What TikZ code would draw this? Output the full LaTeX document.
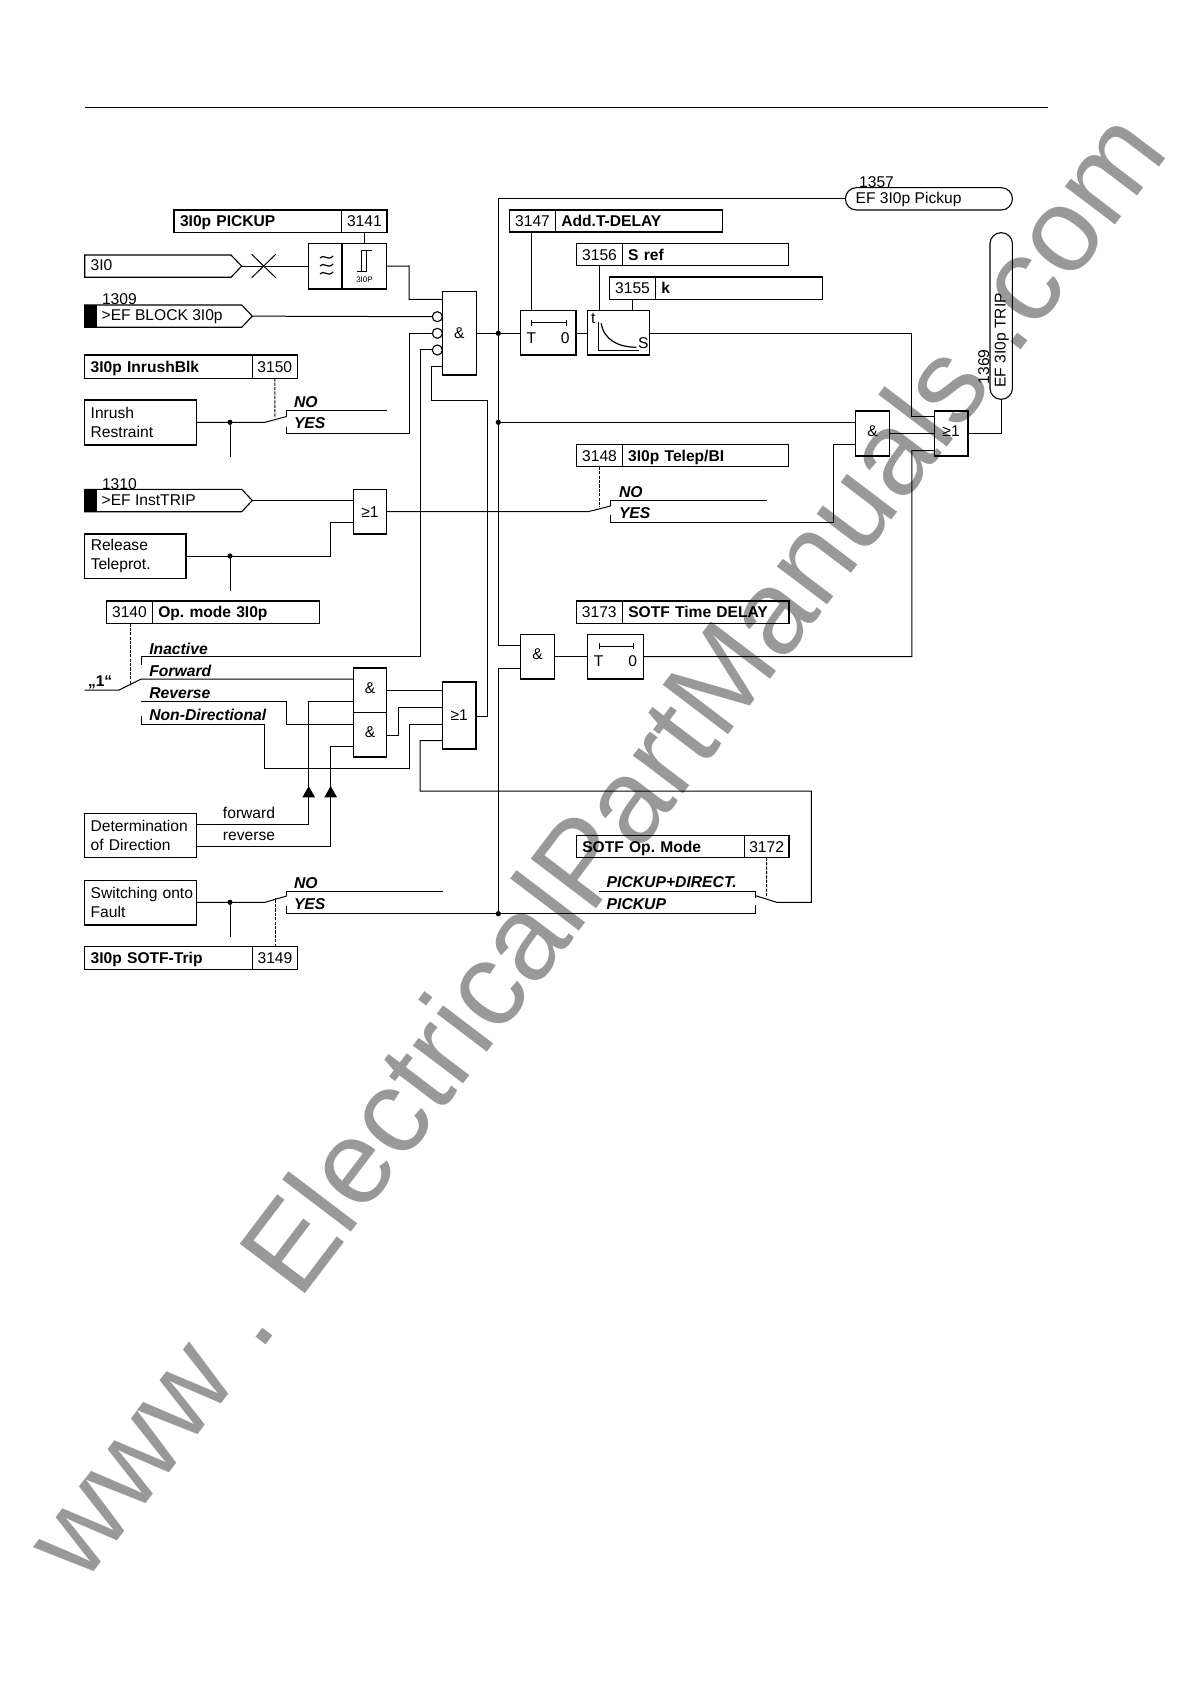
\documentclass[tikz,border=0pt]{standalone}
\usepackage{fontspec}
\setmainfont{Liberation Sans}
\newcommand\szf{\fontsize{7.8}{9.5}\selectfont}
\tikzset{
 ln/.style={line width=.5pt,black},
 box/.style={draw,line width=.55pt,inner sep=0pt,outer sep=0pt,font=\szf,align=center},
 cellnum/.style={box,text height=5.6pt,text depth=0pt},
 celllab/.style={box,text height=5.6pt,text depth=0pt,font=\szf\bfseries,align=left,inner xsep=3pt},
 txtb/.style={inner sep=0pt,outer sep=0pt,anchor=base west,font=\szf},
 swl/.style={txtb,font=\fontsize{7.85}{9}\selectfont\bfseries\itshape},
 lftbox/.style={box,align=left,inner xsep=3pt},
 upg/.style={text height=6pt,text depth=3.2pt},
 dashl/.style={line width=.5pt,dash pattern=on 1.6pt off .6pt},
 dot/.style={circle,fill=black,inner sep=0pt,minimum size=2.6pt},
 inv/.style={circle,draw,line width=.55pt,fill=white,inner sep=0pt,minimum size=5pt,outer sep=0pt},
 wm/.style={font=\fontsize{59.5}{59.5}\selectfont,text=black!40,inner sep=0pt,anchor=base west}
}
% rectangular node from corners
\newcommand\bx[6][]{\node[box,minimum width={(#4-#2)*.5pt},minimum height={(#5-#3)*.5pt},#1] (#6) at ({(#2+#4)/2},{(#3+#5)/2})}
% setting box: number left
\newcommand\lbltext{}
\newcommand\setnl[7]{%
 \node[cellnum,minimum width={(#3-#2)*.5pt},minimum height={(#5-#4)*.5pt}] (#1n) at ({(#2+#3)/2},{(#4+#5)/2}) {#6};
 \node[celllab,text width={(#7-#3)*.5pt-6pt},minimum height={(#5-#4)*.5pt}] (#1l) at ({(#3+#7)/2},{(#4+#5)/2}) {\lbltext};}
\newcommand\nlb[8]{\renewcommand\lbltext{#8}\setnl{#1}{#2}{#3}{#4}{#5}{#6}{#7}}
% setting box: label left, number right
\newcommand\lnb[8]{%
 \node[celllab,text width={(#3-#2)*.5pt-6pt},minimum height={(#5-#4)*.5pt}] (#1l) at ({(#2+#3)/2},{(#4+#5)/2}) {#6};
 \node[cellnum,minimum width={(#7-#3)*.5pt},minimum height={(#5-#4)*.5pt}] (#1n) at ({(#3+#7)/2},{(#4+#5)/2}) {#8};}
% input pentagon
\newcommand\sigin[8]{%
 \draw[line width=.55pt] (#2,#5) -- (#3,#5) -- (#4,{(#5+#6)/2}) -- (#3,#6) -- (#2,#6) -- cycle;
 \coordinate (#1) at (#4,{(#5+#6)/2});
 \node[txtb] (#1t) at (#7,#5+16) {#8};}
\newcommand\blk[2]{\fill (84.7,#1) rectangle (96.7,#2);}
\newcommand\timer[2]{%
 \draw[line width=.5pt] (#1+11.5,#2+12) -- (#1+46,#2+12) (#1+11.5,#2+9) -- (#1+11.5,#2+15) (#1+46,#2+9) -- (#1+46,#2+15);
 \node[font=\szf,inner sep=0pt] at (#1+11,#2+27) {T};
 \node[font=\szf,inner sep=0pt] at (#1+45,#2+27) {0};}
\begin{document}
\frenchspacing
\begin{tikzpicture}[x=.5pt,y=-.5pt]
\useasboundingbox (0,0) rectangle (1190,1684);
\fill[white] (0,0) rectangle (1190,1684);
\node[wm,rotate=52.8] (water) at (83,1585.8) {www . ElectricalPartManuals .com};
\coordinate (ruleL) at (85,107); \coordinate (ruleR) at (1048,107);
\draw[line width=.4pt] (ruleL) -- (ruleR);

% --- left column settings
\lnb{pick}{174}{341.7}{210}{232.3}{3I0p PICKUP}{387}{3141}
\lnb{inr}{84.7}{252.3}{355}{378.3}{3I0p InrushBlk}{297.3}{3150}
\nlb{opm}{106.7}{152.3}{601}{623.3}{3140}{319.3}{Op. mode 3I0p}
\lnb{sotft}{84.7}{252.7}{946.7}{969.3}{3I0p SOTF-Trip}{297.3}{3149}
% --- right column settings
\nlb{add}{509.6}{555.4}{210}{232}{3147}{722.4}{Add.T-DELAY}
\nlb{sref}{576.8}{622.2}{243.7}{265.7}{3156}{788.9}{S ref}
\nlb{kk}{609.8}{655.3}{277}{299.3}{3155}{822.3}{k}
\nlb{tele}{576.8}{622.2}{444.7}{466.7}{3148}{788.9}{3I0p Telep/BI}
\nlb{sdel}{576.3}{622.3}{601}{623.3}{3173}{789}{SOTF Time DELAY}
\lnb{sopm}{576.3}{744.3}{835.7}{857.7}{SOTF Op. Mode}{789}{3172}

% --- inputs
\sigin{i0}{84.7}{231}{241.7}{255}{277.3}{90.7}{3I0}
\blk{305}{327.3}
\sigin{ib}{84.7}{241.7}{252.3}{305}{327.3}{101.7}{>EF BLOCK 3I0p}
\node[txtb] (n1309) at (102,305) {1309};
\blk{489.3}{511.7}
\sigin{it}{84.7}{241.7}{252.3}{489.3}{511.7}{101.7}{>EF InstTRIP}
\node[txtb] (n1310) at (102,489) {1310};

% --- plain boxes
\bx[lftbox,text width=50pt]{84.7}{400}{196.7}{445}{inrb} {Inrush\\Restraint};
\bx[lftbox,text width=44.6pt]{84.7}{534}{186}{578.3}{rel} {Release\\Teleprot.};
\bx[lftbox,text width=50pt]{84.7}{813.3}{196.7}{857.7}{det} {Determination\\of Direction};
\bx[lftbox,text width=50pt]{84.7}{880.7}{196.7}{925}{swo} {\mbox{Switching onto}\\Fault};

% --- filter
\bx{308.7}{243.3}{342}{289}{filtA} {};
\bx{342}{243.3}{386.7}{289}{filtB} {};
\foreach \yy in {257,265,273}{\draw[line width=.6pt] (320,\yy+1) .. controls (323.5,\yy-4) and (328,\yy+5) .. (333,\yy-1);}
\draw[line width=.5pt] (356.7,272) -- (366.7,272) -- (366.7,251) (361.7,272) -- (361.7,251) -- (371.7,251);
\node[font=\fontsize{4}{4}\selectfont,inner sep=0pt] (lab3i) at (364.5,279.5) {3I0P};
\coordinate (xa) at (251.7,254.3); \coordinate (xb) at (275.7,277.7);
\coordinate (xc) at (251.7,277.7); \coordinate (xd) at (275.7,254.3);
\draw[ln] (xa) -- (xb) (xc) -- (xd);

% --- gates
\bx{442.3}{291.3}{476.3}{375}{andA} {\&};
\bx{353.3}{489.3}{386.7}{534}{orT} {≥1};
\bx[upg]{353.3}{668}{386.7}{712.7}{andF} {\&};
\bx[upg]{353.3}{712.7}{386.7}{757}{andR} {\&};
\bx{442.3}{682}{476}{749}{orD} {≥1};
\bx[upg]{520.7}{634.3}{554.3}{679}{andS} {\&};
\bx[upg]{855.7}{411}{889.5}{456}{andE} {\&};
\bx[upg]{934.2}{411}{968}{456}{orE} {≥1};
\node[inv] (c1) at (437.3,316.7) {};
\node[inv] (c2) at (437.3,333.3) {};
\node[inv] (c3) at (437.3,350) {};

% --- timers
\bx{520.3}{310.7}{576}{355}{tA} {};
\timer{520.3}{310.7}
\bx{587.7}{634.3}{643.7}{679}{tS} {};
\timer{587.7}{634.3}
\bx{587.5}{310.7}{649.4}{355}{cur} {};
\node[font=\szf,inner sep=0pt] (ct) at (593.3,319) {t};
\node[font=\szf,inner sep=0pt] (cs) at (643.2,343.5) {S};
\draw[line width=.6pt] (598.5,322.3) -- (598.5,350.7) -- (638.8,350.7);
\draw[line width=.6pt] (601.2,323.3) .. controls (604,340) and (618,347) .. (636.3,347.3);

% --- outputs
\draw[line width=.55pt,rounded corners=5.5pt] (845.4,187.7) rectangle (1012.4,210);
\coordinate (pickIn) at (845.4,198.8);
\node[txtb] (pickT) at (855.7,204) {EF 3I0p Pickup};
\node[txtb] (n1357) at (859.2,187.7) {1357};
\draw[line width=.55pt,rounded corners=5.5pt] (990,232.7) rectangle (1012.4,399.3);
\coordinate (tripIn) at (1001.4,399.3);
\node[txtb,rotate=90] (tripT) at (1005.5,387.7) {EF 3I0p TRIP};
\node[txtb,rotate=90] (n1369) at (989,384.3) {1369};

% --- switch labels
\node[swl] (s1) at (294,408) {NO};
\node[swl] (s2) at (294,429) {YES};
\node[swl] (s3) at (619,497.3) {NO};
\node[swl] (s4) at (619,518.3) {YES};
\node[swl] (s5) at (294,888.3) {NO};
\node[swl] (s6) at (294,909.3) {YES};
\node[swl] (s7) at (149.3,654) {Inactive};
\node[swl] (s8) at (149.3,676) {Forward};
\node[swl] (s9) at (149.3,698.3) {Reverse};
\node[swl] (s10) at (149.3,720) {Non-Directional};
\node[swl] (s11) at (606.7,887) {PICKUP+DIRECT.};
\node[swl] (s12) at (606.7,909.3) {PICKUP};
\node[txtb,font=\fontsize{7.8}{9}\selectfont\bfseries] (one) at (88,686.7) {„1“};
\node[font=\szf,inner sep=0pt] (fw) at (249,812.7) {forward};
\node[font=\szf,inner sep=0pt] (rv) at (249,836.5) {reverse};

% --- junctions
\coordinate (busA) at (498.3,333.3);
\coordinate (busB) at (498.3,422.3);
\coordinate (busC) at (498.3,913.7);
\coordinate (jI) at (230,422.3);
\coordinate (jR) at (230,556);
\coordinate (jS) at (230,902.3);

% --- connectors
\draw[ln] (pickn.south) -- (filtB.north |- pickn.south) -- (filtB.north);
\draw[ln] (i0) -- (filtA.west);
\draw[ln] (filtB.east) -- (409,266) -- (409,299.3) -- (andA.west |- 0,299.3);
\draw[ln] (ib) -- (c1.west);
\draw[ln] (c2.west) -- (409,333.3) -- (409,433.7) -- (286,433.7) -- (286,426.7);
\draw[ln] (c3.west) -- (420,350) -- (420,656.7) -- (141.3,656.7) -- (141.3,665);
\draw[ln] (andA.west |- 0,367) -- (431.7,367) -- (431.7,400.3) -- (487.3,400.3) -- (487.3,716) -- (orD.east |- 0,716);
\draw[ln] (andA.east |- busA) -- (tA.west |- busA);
\draw[ln] (tA.east |- busA) -- (cur.west |- busA);
\draw[ln] (addn.south -| 531.3,0) -- (531.3,310.7);
\draw[ln] (srefn.south) -- (srefn.south |- cur.north);
\draw[ln] (kkn.south) -- (kkn.south |- cur.north);
\draw[ln] (pickIn) -- (498.3,198.8) -- (498.3,645.7) -- (andS.west |- 0,645.7);
\draw[ln] (andS.west |- 0,668) -- (498.3,668) -- (busC);
\draw[ln] (busB) -- (andE.west |- busB);
\draw[ln] (cur.east |- busA) -- (911.8,333.3) -- (911.8,416.7) -- (orE.west |- 0,416.7);
\draw[ln] (andE.east |- 0,433.3) -- (orE.west |- 0,433.3);
\draw[ln] (orE.east |- 0,433.3) -- (1001.4,433.3) -- (tripIn);
\draw[ln] (orE.west |- 0,450.7) -- (911.8,450.7) -- (911.8,656.7) -- (tS.east);
\draw[ln] (andS.east) -- (tS.west);
% inrush switch
\draw[ln] (inrb.east |- jI) -- (265,422.3) -- (286.7,416.5);
\coordinate (jId) at (230,456.7); \draw[ln] (jI) -- (jId);
\coordinate (swNa) at (286,416.5); \coordinate (swNb) at (386.7,411);
\draw[ln] (swNa) -- (286,411) -- (swNb);
\draw[dashl] (inrn.south) -- (275,418);
% tele
\draw[ln] (it) -- (orT.west |- it);
\draw[ln] (rel.east |- jR) -- (330.7,556) -- (330.7,522.7) -- (orT.west |- 0,522.7);
\coordinate (jRd) at (230,591); \draw[ln] (jR) -- (jRd);
\draw[ln] (orT.east |- 0,511.7) -- (588.1,511.7) -- (610.5,506);
\coordinate (tNa) at (610.5,506); \coordinate (tNb) at (767.2,500.7);
\draw[ln] (tNa) -- (610.5,500.7) -- (tNb);
\draw[ln] (610.5,515) -- (610.5,522.7) -- (833.7,522.7) -- (833.7,444.7) -- (andE.west |- 0,444.7);
\draw[dashl] (telen.south) -- (599.5,506.7);
% op mode
\coordinate (oneL) at (84.7,690);
\draw[ln] (oneL) -- (119.3,690) -- (141.3,679) -- (andF.west |- 0,679);
\draw[dashl] (opmn.south -| 130,0) -- (130,684.3);
\draw[ln] (141.3,701.7) -- (286,701.7) -- (286,724) -- (andR.west |- 0,724);
\draw[ln] (141.3,716) -- (141.3,724) -- (264,724) -- (264,768.7) -- (409,768.7) -- (409,724) -- (orD.west |- 0,724);
\draw[ln] (andF.east |- 0,690.3) -- (orD.west |- 0,690.3);
\draw[ln] (andR.east |- 0,735) -- (398.3,735) -- (398.3,707) -- (orD.west |- 0,707);
% direction
\draw[ln] (det.east |- 0,824) -- (308.7,824) -- (308.7,701.7) -- (andF.west |- 0,701.7);
\draw[ln] (det.east |- 0,846.7) -- (330.7,846.7) -- (330.7,746) -- (andR.west |- 0,746);
\fill (308.7,786) -- (315,797.3) -- (302.4,797.3) -- cycle;
\fill (330.7,786) -- (337,797.3) -- (324.4,797.3) -- cycle;
% SOTF switch
\draw[ln] (swo.east |- jS) -- (265,902.3) -- (286.7,896);
\coordinate (jSd) at (230,936.7); \draw[ln] (jS) -- (jSd);
\coordinate (sNa) at (286,896); \coordinate (sNb) at (443.3,891);
\draw[ln] (sNa) -- (286,891) -- (sNb);
\draw[ln] (286,906) -- (286,913.7) -- (755.7,913.7) -- (755.7,905);
\draw[dashl] (sotftn.north) -- (275,898);
% SOTF op mode
\coordinate (pNa) at (599,891); \coordinate (pNb) at (755.7,898);
\draw[ln] (pNa) -- (755.7,891) -- (pNb);
\draw[ln] (755.7,895.7) -- (776.7,902.3) -- (811.3,902.3) -- (811.3,791) -- (420,791) -- (420,740.7) -- (orD.west |- 0,740.7);
\draw[dashl] (sopmn.south) -- (766.7,897);

\node[dot] (d1) at (busA) {};
\node[dot] (d2) at (busB) {};
\node[dot] (d3) at (busC) {};
\node[dot] (d4) at (jI) {};
\node[dot] (d5) at (jR) {};
\node[dot] (d6) at (jS) {};
\end{tikzpicture}
\end{document}
